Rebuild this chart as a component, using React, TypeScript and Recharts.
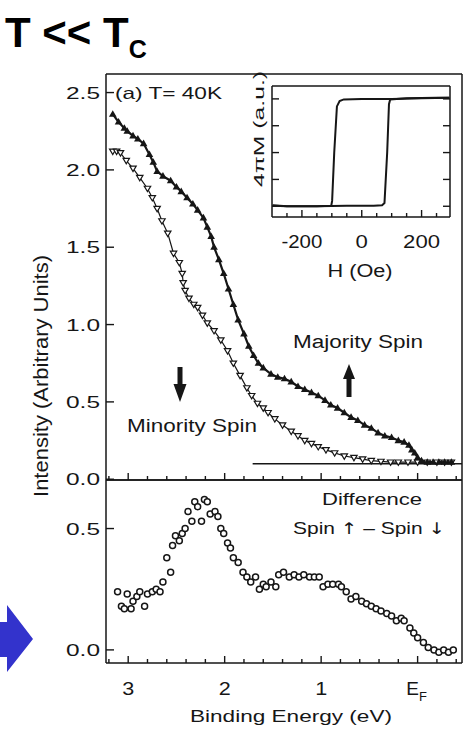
import { ComposedChart, Line, Scatter, XAxis, YAxis } from 'recharts';

const FONT = '"Liberation Sans", Arial, Helvetica, sans-serif';
const INK = '#161616';

// spin-resolved photoemission, T = 40 K  (binding energy eV, intensity)
const majority = [
  [3.16, 2.36], [3.1, 2.31], [3.04, 2.27], [3.01, 2.25], [2.95, 2.22], [2.9, 2.2], [2.84, 2.17],
  [2.78, 2.1], [2.74, 2.05], [2.7, 1.99], [2.64, 1.96], [2.56, 1.93], [2.5, 1.89], [2.45, 1.86],
  [2.39, 1.82], [2.33, 1.78], [2.28, 1.74], [2.22, 1.69], [2.18, 1.63], [2.14, 1.57], [2.11, 1.5],
  [2.06, 1.42], [2.01, 1.33], [1.96, 1.23], [1.91, 1.13], [1.86, 1.03], [1.8, 0.94], [1.75, 0.86],
  [1.7, 0.8], [1.65, 0.75], [1.6, 0.72], [1.52, 0.68], [1.45, 0.66], [1.38, 0.65], [1.31, 0.63],
  [1.24, 0.6], [1.17, 0.58], [1.1, 0.56], [1.03, 0.54], [0.96, 0.51], [0.9, 0.48], [0.83, 0.46],
  [0.76, 0.43], [0.69, 0.4], [0.62, 0.38], [0.55, 0.35], [0.48, 0.33], [0.41, 0.3], [0.34, 0.28],
  [0.27, 0.27], [0.2, 0.25], [0.14, 0.24], [0.09, 0.22], [0.06, 0.19], [0.03, 0.17], [0.0, 0.14],
  [-0.04, 0.12], [-0.1, 0.11], [-0.16, 0.11], [-0.22, 0.11], [-0.28, 0.11], [-0.35, 0.11],
];

const minority = [
  [3.16, 2.12], [3.12, 2.12], [3.08, 2.11], [3.02, 2.06], [2.95, 2.01], [2.88, 1.95], [2.8, 1.88],
  [2.75, 1.82], [2.7, 1.75], [2.65, 1.67], [2.59, 1.59], [2.53, 1.46], [2.47, 1.4], [2.44, 1.33],
  [2.43, 1.27], [2.41, 1.22], [2.37, 1.17], [2.32, 1.13], [2.28, 1.11], [2.23, 1.06], [2.18, 1.01],
  [2.11, 0.96], [2.04, 0.9], [1.97, 0.83], [1.91, 0.75], [1.84, 0.67], [1.77, 0.59], [1.72, 0.54],
  [1.66, 0.49], [1.6, 0.46], [1.55, 0.43], [1.48, 0.39], [1.4, 0.35], [1.31, 0.31], [1.24, 0.28],
  [1.17, 0.25], [1.1, 0.23], [1.03, 0.21], [0.95, 0.19], [0.86, 0.17], [0.76, 0.15], [0.66, 0.14],
  [0.57, 0.13], [0.48, 0.12], [0.38, 0.115], [0.28, 0.11], [0.2, 0.11], [0.1, 0.11], [0.0, 0.11],
  [-0.1, 0.11], [-0.2, 0.11], [-0.28, 0.11], [-0.35, 0.11],
];

const background = [[1.71, 0.1], [-0.46, 0.1]];

// spin up - spin down
const difference = [
  [3.11, 0.24], [3.07, 0.18], [3.04, 0.17], [3.01, 0.23], [2.97, 0.17], [2.95, 0.2], [2.91, 0.22],
  [2.88, 0.24], [2.83, 0.18], [2.8, 0.23], [2.75, 0.24], [2.71, 0.25], [2.67, 0.24], [2.64, 0.28],
  [2.6, 0.38], [2.56, 0.32], [2.54, 0.43], [2.51, 0.47], [2.47, 0.45], [2.44, 0.48], [2.41, 0.5],
  [2.38, 0.57], [2.34, 0.53], [2.31, 0.61], [2.28, 0.59], [2.24, 0.53], [2.21, 0.62], [2.18, 0.61],
  [2.15, 0.56], [2.1, 0.57], [2.07, 0.55], [2.04, 0.5], [2.01, 0.48], [1.97, 0.44], [1.94, 0.42],
  [1.91, 0.38], [1.86, 0.36], [1.81, 0.32], [1.77, 0.3], [1.73, 0.28], [1.68, 0.3], [1.64, 0.25],
  [1.6, 0.27], [1.57, 0.26], [1.52, 0.28], [1.47, 0.26], [1.44, 0.31], [1.39, 0.32], [1.33, 0.3],
  [1.28, 0.31], [1.23, 0.3], [1.18, 0.31], [1.12, 0.3], [1.07, 0.3], [1.02, 0.3], [0.98, 0.26],
  [0.93, 0.27], [0.88, 0.27], [0.82, 0.27], [0.79, 0.26], [0.74, 0.24], [0.69, 0.21], [0.64, 0.22],
  [0.58, 0.2], [0.53, 0.19], [0.48, 0.18], [0.43, 0.17], [0.38, 0.16], [0.32, 0.15], [0.27, 0.14],
  [0.22, 0.12], [0.17, 0.13], [0.14, 0.12], [0.08, 0.09], [0.04, 0.07], [0.0, 0.05], [-0.06, 0.03],
  [-0.11, 0.01], [-0.17, 0.0], [-0.22, -0.01], [-0.27, 0.0], [-0.32, -0.01], [-0.37, 0.0],
];

// inset: hysteresis loop, H (Oe) vs 4piM (a.u.)
const sweepUp = [
  [-298, -0.99], [-250, -1.0], [-150, -1.0], [-50, -0.99], [40, -0.99], [68, -0.98], [76, -0.94],
  [85, 0.0], [91, 0.9], [95, 0.99], [150, 1.01], [250, 1.02], [293, 1.02],
];
const sweepDown = [
  [293, 1.02], [200, 1.01], [100, 1.0], [0, 1.0], [-60, 0.99], [-74, 0.96], [-83, 0.86],
  [-92, 0.0], [-99, -0.9], [-102, -0.99], [-150, -1.0], [-250, -1.0], [-298, -0.98],
];

const energyTicks = [3.2, 3.0, 2.8, 2.6, 2.4, 2.2, 2.0, 1.8, 1.6, 1.4, 1.2, 1.0, 0.8, 0.6, 0.4, 0.2, 0.0, -0.2, -0.4];
const intensityTicks = [0, 0.5, 1.0, 1.5, 2.0, 2.5];
const differenceTicks = [0, 0.5];
const fieldTicks = [-250, -200, -150, -100, -50, 0, 50, 100, 150, 200, 250];
const momentTicks = [-1, -0.5, 0, 0.5, 1];

const energyDomain = [-0.46, 3.23];
const intensityDomain = [-0.005, 2.62];
const differenceDomain = [-0.054, 0.7];
const fieldDomain = [-300, 295];
const momentDomain = [-1.2, 1.24];

const pts = (arr: number[][]) => arr.map(([x, y]) => ({ x, y }));

const axisStyle = { stroke: INK, strokeWidth: 1.5 };

const EnergyTick = ({ x, y, payload, dir, labels }: any) => {
  const v = payload.value;
  const major = Math.abs(v - Math.round(v)) < 1e-6;
  const len = major ? 7 : 4;
  return (
    <g>
      <line x1={x} x2={x} y1={y} y2={y + dir * len} stroke={INK} strokeWidth={1.4} />
      {labels && major && v === 0 && (
        <text x={x - 1} y={y + 32} textAnchor="middle" fontFamily={FONT} fontSize={19} fill={INK}>
          E<tspan fontSize={13} dy={6}>F</tspan>
        </text>
      )}
      {labels && major && v !== 0 && (
        <text x={x} y={y + 32} textAnchor="middle" fontFamily={FONT} fontSize={19} fill={INK}
          textLength={12} lengthAdjust="spacingAndGlyphs">
          {String(Math.round(v))}
        </text>
      )}
    </g>
  );
};

const ValueTick = ({ x, y, payload, dir, labels }: any) => (
  <g>
    <line x1={x} x2={x + dir * 8} y1={y} y2={y} stroke={INK} strokeWidth={1.4} />
    {labels && (
      <text x={x - 6} y={y + 6} textAnchor="end" fontFamily={FONT} fontSize={17} fill={INK}
        textLength={34} lengthAdjust="spacingAndGlyphs">
        {payload.value.toFixed(1)}
      </text>
    )}
  </g>
);

const FieldTick = ({ x, y, payload, dir, labels }: any) => {
  const v = payload.value;
  const major = v % 200 === 0;
  const label = String(v);
  const w = label.replace('-', '').length * 12.3 + (v < 0 ? 4 : 0);
  return (
    <g>
      <line x1={x} x2={x} y1={y} y2={y + dir * (major ? 7 : 4)} stroke={INK} strokeWidth={1.4} />
      {labels && major && (
        <text x={x} y={y + 31} textAnchor="middle" fontFamily={FONT} fontSize={18} fill={INK}
          textLength={w} lengthAdjust="spacingAndGlyphs">
          {label}
        </text>
      )}
    </g>
  );
};

const MomentTick = ({ x, y, dir }: any) => (
  <line x1={x} x2={x + dir * 7} y1={y} y2={y} stroke={INK} strokeWidth={1.4} />
);

const MajorityDot = (p: any) => (
  <path key={`maj-${p.index}`} d={`M${p.cx},${p.cy - 4} L${p.cx + 3.8},${p.cy + 2.6} L${p.cx - 3.8},${p.cy + 2.6} Z`} fill={INK} />
);

const MinorityDot = (p: any) => (
  <path key={`min-${p.index}`} d={`M${p.cx - 3.2},${p.cy - 2.2} L${p.cx + 3.2},${p.cy - 2.2} L${p.cx},${p.cy + 3.2} Z`}
    fill="#fff" stroke={INK} strokeWidth={1.2} />
);

const OpenCircle = (p: any) => (
  <circle cx={p.cx} cy={p.cy} r={3} fill="#fff" stroke={INK} strokeWidth={1.5} />
);

const layer: React.CSSProperties = { position: 'absolute', left: 0, top: 0 };

// axes are 1px thick spacers (Recharts skips axes of zero size); margins absorb that pixel
export default function App() {
  return (
    <div style={{ position: 'absolute', left: 0, top: 0, width: 469, height: 733, background: '#fff', overflow: 'hidden' }}>
      {/* upper panel: majority / minority spectra */}
      <div style={layer}>
        <ComposedChart width={469} height={733} margin={{ top: 73, right: 6, bottom: 252, left: 105 }}>
          <XAxis xAxisId="b" dataKey="x" type="number" domain={energyDomain} reversed allowDataOverflow
            ticks={energyTicks} interval={0} height={1} tickSize={0} tickMargin={0} tickLine={false}
            axisLine={axisStyle} tick={<EnergyTick dir={-1} />} />
          <XAxis xAxisId="t" orientation="top" type="number" domain={energyDomain} reversed allowDataOverflow
            height={1} tick={false} tickLine={false} axisLine={axisStyle} />
          <YAxis yAxisId="l" dataKey="y" type="number" domain={intensityDomain} allowDataOverflow
            ticks={intensityTicks} interval={0} width={1} tickSize={0} tickMargin={0} tickLine={false}
            axisLine={axisStyle} tick={<ValueTick dir={1} labels />} />
          <YAxis yAxisId="r" orientation="right" type="number" domain={intensityDomain} allowDataOverflow
            width={1} tick={false} tickLine={false} axisLine={axisStyle} />
          <Line xAxisId="b" yAxisId="l" data={pts(background)} dataKey="y" stroke={INK} strokeWidth={1.3}
            dot={false} isAnimationActive={false} />
          <Line xAxisId="b" yAxisId="l" data={pts(minority)} dataKey="y" stroke={INK} strokeWidth={1.2}
            dot={MinorityDot} isAnimationActive={false} />
          <Line xAxisId="b" yAxisId="l" data={pts(majority)} dataKey="y" stroke={INK} strokeWidth={2.2}
            dot={MajorityDot} isAnimationActive={false} />
        </ComposedChart>
      </div>

      {/* lower panel: difference */}
      <div style={layer}>
        <ComposedChart width={469} height={733} margin={{ top: 479, right: 6, bottom: 69, left: 105 }}>
          <XAxis xAxisId="b" dataKey="x" type="number" domain={energyDomain} reversed allowDataOverflow
            ticks={energyTicks} interval={0} height={1} tickSize={0} tickMargin={0} tickLine={false}
            axisLine={axisStyle} tick={<EnergyTick dir={-1} labels />} />
          <XAxis xAxisId="t" orientation="top" type="number" domain={energyDomain} reversed allowDataOverflow
            ticks={energyTicks} interval={0} height={1} tickSize={0} tickMargin={0} tickLine={false}
            axisLine={axisStyle} tick={<EnergyTick dir={1} />} />
          <YAxis yAxisId="l" dataKey="y" type="number" domain={differenceDomain} allowDataOverflow
            ticks={differenceTicks} interval={0} width={1} tickSize={0} tickMargin={0} tickLine={false}
            axisLine={axisStyle} tick={<ValueTick dir={1} labels />} />
          <YAxis yAxisId="r" orientation="right" type="number" domain={differenceDomain} allowDataOverflow
            width={1} tick={false} tickLine={false} axisLine={axisStyle} />
          <Scatter xAxisId="b" yAxisId="l" data={pts(difference)} shape={OpenCircle} isAnimationActive={false} />
        </ComposedChart>
      </div>

      {/* inset: hysteresis loop */}
      <div style={layer}>
        <ComposedChart width={469} height={733} margin={{ top: 85, right: 18, bottom: 515, left: 271 }}>
          <XAxis xAxisId="b" dataKey="x" type="number" domain={fieldDomain} allowDataOverflow
            ticks={fieldTicks} interval={0} height={1} tickSize={0} tickMargin={0} tickLine={false}
            axisLine={axisStyle} tick={<FieldTick dir={-1} labels />} />
          <XAxis xAxisId="t" orientation="top" type="number" domain={fieldDomain} allowDataOverflow
            ticks={fieldTicks} interval={0} height={1} tickSize={0} tickMargin={0} tickLine={false}
            axisLine={axisStyle} tick={<FieldTick dir={1} />} />
          <YAxis yAxisId="l" dataKey="y" type="number" domain={momentDomain} allowDataOverflow
            ticks={momentTicks} interval={0} width={1} tickSize={0} tickMargin={0} tickLine={false}
            axisLine={axisStyle} tick={<MomentTick dir={1} />} />
          <YAxis yAxisId="r" orientation="right" type="number" domain={momentDomain} allowDataOverflow
            ticks={momentTicks} interval={0} width={1} tickSize={0} tickMargin={0} tickLine={false}
            axisLine={axisStyle} tick={<MomentTick dir={-1} />} />
          <Line xAxisId="b" yAxisId="l" data={pts(sweepUp)} dataKey="y" stroke={INK} strokeWidth={2}
            dot={false} isAnimationActive={false} />
          <Line xAxisId="b" yAxisId="l" data={pts(sweepDown)} dataKey="y" stroke={INK} strokeWidth={2}
            dot={false} isAnimationActive={false} />
        </ComposedChart>
      </div>

      {/* labels and annotations */}
      <svg width={469} height={733} style={{ ...layer, pointerEvents: 'none' }} fontFamily={FONT} fill={INK}>
        <text x={5} y={47} fontSize={42} fontWeight="bold" fill="#000">
          T &lt;&lt; T<tspan fontSize={25} dy={11}>C</tspan>
        </text>

        <text transform="translate(48,376) rotate(-90)" textAnchor="middle" fontSize={21}
          textLength={242} lengthAdjust="spacingAndGlyphs">
          Intensity (Arbitrary Units)
        </text>
        <text x={291} y={722} textAnchor="middle" fontSize={17} textLength={202} lengthAdjust="spacingAndGlyphs">
          Binding Energy (eV)
        </text>

        <text x={115} y={99} fontSize={16.5} textLength={107} lengthAdjust="spacingAndGlyphs">(a) T= 40K</text>
        <text x={293} y={348} fontSize={18} textLength={130} lengthAdjust="spacingAndGlyphs">Majority Spin</text>
        <text x={127} y={432} fontSize={18} textLength={130} lengthAdjust="spacingAndGlyphs">Minority Spin</text>
        <text x={322} y={505} fontSize={17} textLength={100} lengthAdjust="spacingAndGlyphs">Difference</text>
        <text x={293} y={534} fontSize={17} textLength={152} lengthAdjust="spacingAndGlyphs">
          Spin <tspan fontFamily="DejaVu Sans" fontSize={16}>↑</tspan> – Spin <tspan fontFamily="DejaVu Sans" fontSize={16}>↓</tspan>
        </text>

        <text transform="translate(264,129) rotate(-90)" textAnchor="middle" fontSize={15}
          textLength={116} lengthAdjust="spacingAndGlyphs">
          4πM (a.u.)
        </text>
        <text x={360} y={277} textAnchor="middle" fontSize={18} textLength={65} lengthAdjust="spacingAndGlyphs">
          H (Oe)
        </text>

        {/* spin direction arrows */}
        <polygon points="349,364 355,379 351.5,379 351.5,397 346.5,397 346.5,379 343,379" fill={INK} />
        <polygon points="177.5,367 182.5,367 182.5,384 186.5,384 180,402 173.5,384 177.5,384" fill={INK} />

        {/* blue pointer */}
        <polygon points="0,622 7,622 7,605 33,639 7,672 7,657 0,657" fill="#3333cc" />
      </svg>
    </div>
  );
}
